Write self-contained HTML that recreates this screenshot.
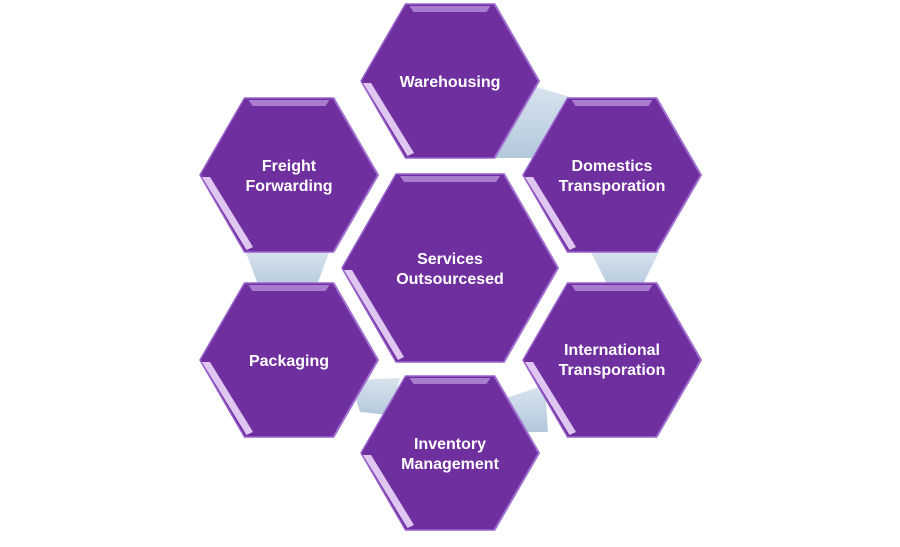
<!DOCTYPE html>
<html><head><style>html,body{margin:0;padding:0;background:#fff}svg{display:block}</style></head>
<body>
<svg width="900" height="547" viewBox="0 0 900 547" xmlns="http://www.w3.org/2000/svg">
<defs>
<linearGradient id="cg" x1="0" y1="0" x2="0" y2="1"><stop offset="0" stop-color="#d8e4ef"/><stop offset="1" stop-color="#b4c8dc"/></linearGradient>
<g id="hx">
<polygon points="-89,0 -44.5,-77 44.5,-77 89,0 44.5,77 -44.5,77" fill="#6f2f9f" stroke="#9a62cc" stroke-width="1.5"/>
<polygon points="-40.5,-75 40.5,-75 36.5,-69 -36.5,-69" fill="#b48ad8" opacity="0.85"/>
<polygon points="-87,2 -42.5,75 -36,72 -79,2" fill="#ecd8fa" opacity="0.9"/>
<polyline points="44.5,-77 89,0 44.5,77" fill="none" stroke="#a070d0" stroke-width="2"/>
</g>
</defs>
<g fill="url(#cg)">
<polygon points="530,85 580,100 565,158 495,158"/>
<polygon points="590,250 660,250 640,290 610,290"/>
<polygon points="500,400 545,385 548,432 505,432"/>
<polygon points="350,380 400,378 390,415 360,412"/>
<polygon points="245,250 330,250 315,290 260,290"/>
</g>
<use href="#hx" transform="translate(450,81)"/>
<use href="#hx" transform="translate(289,175)"/>
<use href="#hx" transform="translate(612,175)"/>
<use href="#hx" transform="translate(289,360)"/>
<use href="#hx" transform="translate(612,360)"/>
<use href="#hx" transform="translate(450,453)"/>
<polygon points="342,268 396,174 504,174 558,268 504,362 396,362" fill="#6f2f9f" stroke="#9a62cc" stroke-width="1.5"/>
<polygon points="400,176 500,176 496,182 404,182" fill="#b48ad8" opacity="0.85"/>
<polygon points="344,270 398,360 404,357 352,270" fill="#ecd8fa" opacity="0.9"/>
<polyline points="504,174 558,268 504,362" fill="none" stroke="#a070d0" stroke-width="2"/>
<g font-family="Liberation Sans, sans-serif" font-weight="bold" font-size="16" fill="#fff" text-anchor="middle">
<text x="450" y="87">Warehousing</text>
<text x="289" y="171">Freight</text><text x="289" y="191">Forwarding</text>
<text x="612" y="171">Domestics</text><text x="612" y="191">Transporation</text>
<text x="450" y="264">Services</text><text x="450" y="284">Outsourcesed</text>
<text x="289" y="366">Packaging</text>
<text x="612" y="355">International</text><text x="612" y="375">Transporation</text>
<text x="450" y="449">Inventory</text><text x="450" y="469">Management</text>
</g>
</svg>
</body></html>
